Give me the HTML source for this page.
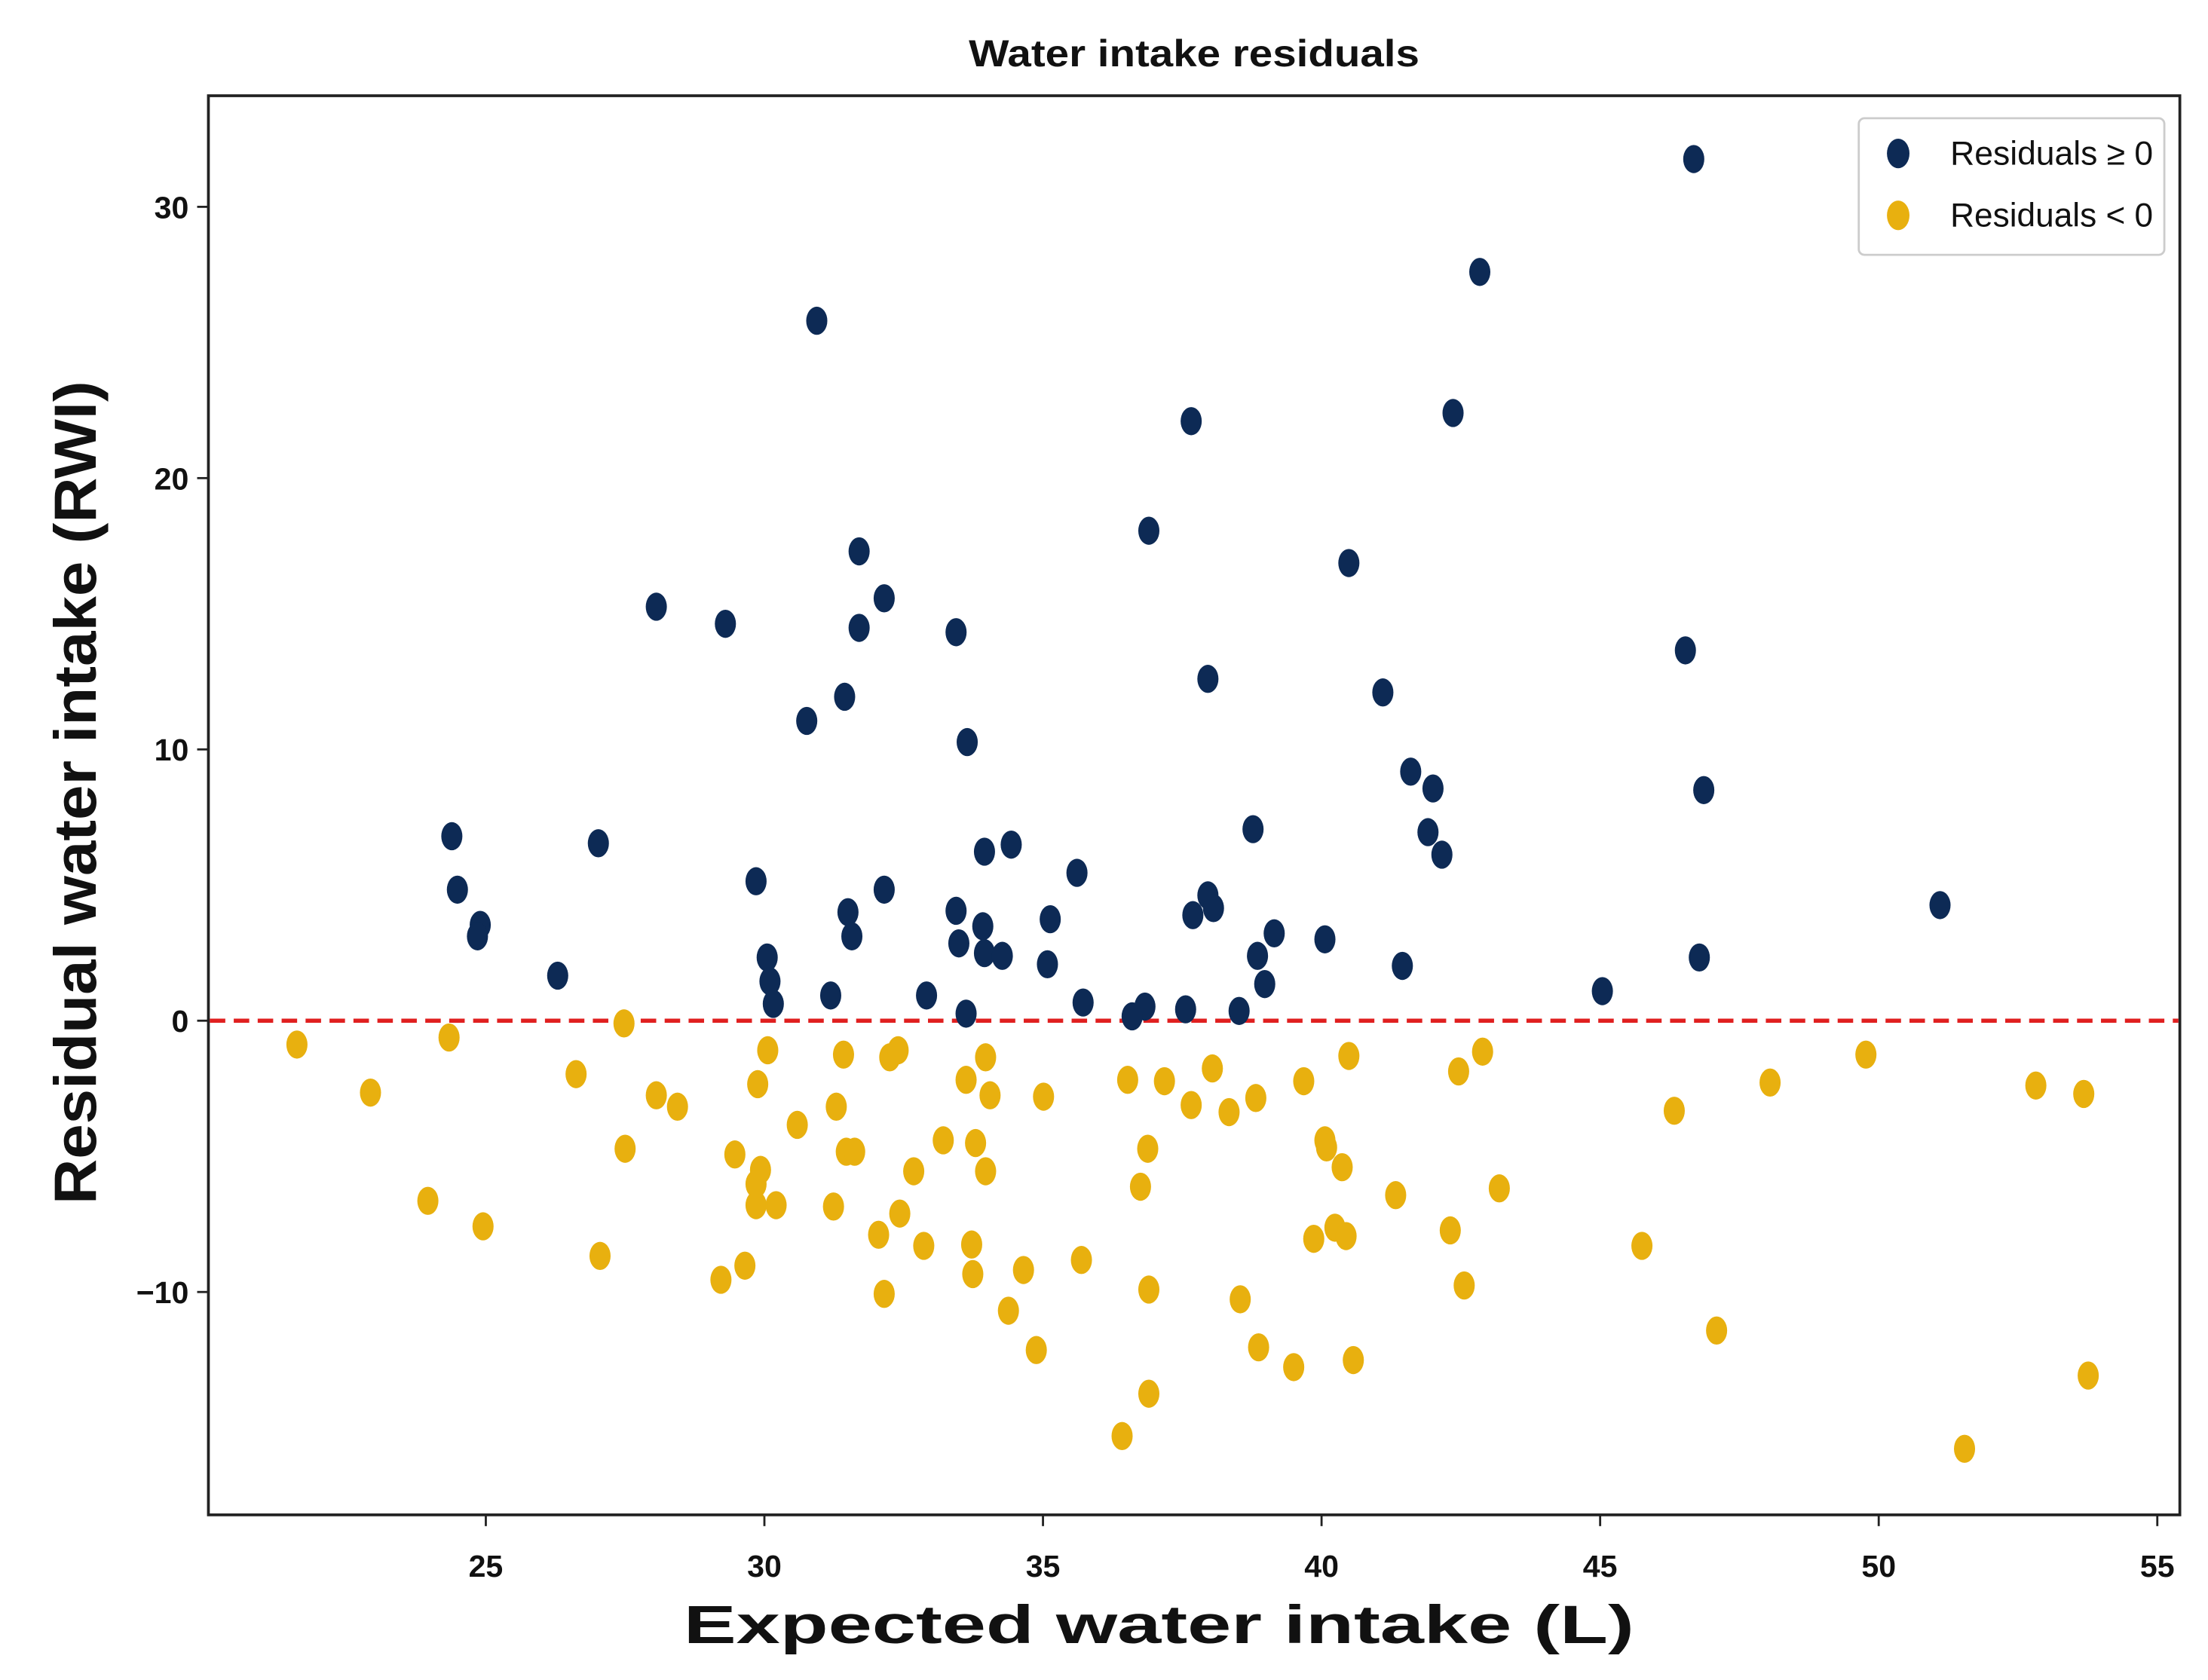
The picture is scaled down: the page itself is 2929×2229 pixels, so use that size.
<!DOCTYPE html>
<html><head><meta charset="utf-8"><style>
html,body{margin:0;padding:0;background:#fff}
svg{display:block}
text{font-family:"Liberation Sans",sans-serif;fill:#111}
</style></head><body>
<svg id="chart" width="2929" height="2229" viewBox="0 0 1568 1193.3" preserveAspectRatio="none" xmlns="http://www.w3.org/2000/svg">
<text x="848" y="47" text-anchor="middle" font-size="27" font-weight="bold" textLength="320" lengthAdjust="spacingAndGlyphs">Water intake residuals</text>
<rect x="148" y="68" width="1400" height="1008" fill="none" stroke="#222" stroke-width="2"/>
<g id="xticks"></g>
<g id="yticks"></g>
<line id="zeroline" stroke="#e02020" stroke-width="3" stroke-dasharray="11,6"/>
<g id="points"></g>
<text x="823" y="1167" text-anchor="middle" font-size="38" font-weight="bold" textLength="675" lengthAdjust="spacingAndGlyphs">Expected water intake (L)</text>
<text transform="translate(68,563) rotate(-90)" text-anchor="middle" font-size="42" font-weight="bold" textLength="585" lengthAdjust="spacingAndGlyphs">Residual water intake (RWI)</text>
<g>
<rect x="1320" y="84" width="217" height="97" rx="4" fill="#fff" stroke="#ccc" stroke-width="1.5"/>
<ellipse cx="1348" cy="109" rx="8" ry="10.5" fill="#0d2a55"/>
<text x="1385" y="117" font-size="24" textLength="144" lengthAdjust="spacingAndGlyphs">Residuals ≥ 0</text>
<ellipse cx="1348" cy="153" rx="8" ry="10.5" fill="#e8b00f"/>
<text x="1385" y="161" font-size="24" textLength="144" lengthAdjust="spacingAndGlyphs">Residuals &lt; 0</text>
</g>
</svg>
<script>
const xTickValues=[25,30,35,40,45,50,55];
const yTickValues=[30,20,10,0,-10];
const yTickLabels=["30","20","10","0","\u221210"];
const positiveX=[46.68,42.84,30.94,37.66,42.36,36.9,40.49,31.7,28.06,29.3,32.15,31.7,33.44,46.53,37.96,41.1,31.44,30.76,33.64,41.6,42.0,46.86,41.91,42.16,38.77,24.39,27.02,33.95,34.43,24.49,29.85,35.61,32.15,37.96,38.06,37.69,33.44,31.5,35.13,24.9,24.85,31.57,33.92,33.49,39.15,40.06,30.05,33.95,34.27,38.85,46.78,35.08,41.45,26.29,30.1,38.98,51.1,45.04,31.19,32.91,30.16,35.72,36.83,37.56,38.52,33.62,36.6];
const positiveY=[31.76,27.6,25.8,22.1,22.4,18.06,16.87,17.3,15.26,14.63,15.57,14.48,14.32,13.65,12.6,12.1,11.94,11.05,10.27,9.18,8.56,8.5,6.95,6.12,7.06,6.8,6.54,6.23,6.49,4.83,5.14,5.45,4.83,4.62,4.15,3.89,4.05,4.0,3.74,3.53,3.11,3.11,3.48,2.85,3.22,3.0,2.33,2.49,2.39,2.39,2.33,2.08,2.02,1.66,1.45,1.35,4.26,1.09,0.93,0.93,0.62,0.67,0.52,0.42,0.36,0.26,0.16];
const negativeX=[21.61,24.34,27.48,22.93,26.62,28.06,28.44,23.96,24.95,27.05,27.5,29.22,29.65,29.47,29.93,29.85,29.85,30.21,29.88,30.06,30.59,31.24,31.29,31.42,31.47,31.62,32.25,32.4,32.43,32.05,32.15,32.68,32.86,33.21,33.62,33.97,34.05,33.79,33.97,33.72,33.74,34.38,34.65,35.01,34.88,35.69,36.42,36.52,36.75,36.88,36.9,36.9,37.18,37.66,38.04,38.34,38.54,38.82,38.87,39.5,39.68,39.86,40.06,40.09,40.37,40.24,40.44,40.49,40.57,41.33,42.31,42.46,42.89,42.56,43.19,45.75,46.33,47.09,48.05,49.77,51.54,52.82,53.68,53.76];
const negativeY=[-0.88,-0.62,-0.10,-2.65,-1.97,-2.75,-3.17,-6.64,-7.58,-8.67,-4.72,-9.55,-9.03,-4.93,-5.5,-6.8,-6.02,-6.8,-2.34,-1.09,-3.84,-6.85,-3.17,-1.25,-4.83,-4.83,-1.35,-1.09,-7.11,-7.89,-10.07,-5.55,-8.3,-4.41,-2.18,-1.35,-2.75,-4.51,-5.55,-8.25,-9.34,-10.69,-9.19,-2.8,-12.14,-8.82,-15.31,-2.18,-6.12,-4.72,-13.75,-9.91,-2.23,-3.11,-1.76,-3.37,-10.27,-2.85,-12.04,-12.77,-2.23,-8.04,-4.41,-4.67,-5.4,-7.63,-7.94,-1.3,-12.51,-6.43,-7.73,-1.87,-1.14,-9.76,-6.18,-8.3,-3.32,-11.42,-2.28,-1.25,-15.78,-2.39,-2.7,-13.08];

const NS="http://www.w3.org/2000/svg";
const xScale=v=>345+(v-25)*(1532-345)/30;
const yScale=v=>725-v*19.27;
function mk(tag,attrs,parent){const e=document.createElementNS(NS,tag);for(const k in attrs)e.setAttribute(k,attrs[k]);parent.appendChild(e);return e;}
const xg=document.getElementById('xticks');
xTickValues.forEach(v=>{
  const x=xScale(v);
  const t=mk('line',{x1:x,x2:x,y1:1076,y2:1084,stroke:'#222','stroke-width':1.5},xg);
  
  
  const l=mk('text',{x:x,y:1120,'text-anchor':'middle','font-size':22,'font-weight':'bold'},xg);
  
  
  l.textContent=String(v);
});
const yg=document.getElementById('yticks');
yTickValues.forEach((v,i)=>{
  const y=yScale(v);
  const t=mk('line',{x1:140,x2:148,y1:y,y2:y,stroke:'#222','stroke-width':1.5},yg);
  
  
  const l=mk('text',{x:134,y:y+8,'text-anchor':'end','font-size':22,'font-weight':'bold'},yg);
  
  
  l.textContent=yTickLabels[i];
});
const z=document.getElementById('zeroline');
z.setAttribute('x1',149);z.setAttribute('x2',1547);z.setAttribute('y1',yScale(0));z.setAttribute('y2',yScale(0));
const pg=document.getElementById('points');
negativeX.forEach((v,i)=>{
  const p=mk('ellipse',{cx:xScale(v),cy:yScale(negativeY[i]),rx:7.5,ry:10,fill:'#e8b00f'},pg);
  
  
});
positiveX.forEach((v,i)=>{
  const p=mk('ellipse',{cx:xScale(v),cy:yScale(positiveY[i]),rx:7.5,ry:10,fill:'#0d2a55'},pg);
  
  
});
</script>
</body></html>
